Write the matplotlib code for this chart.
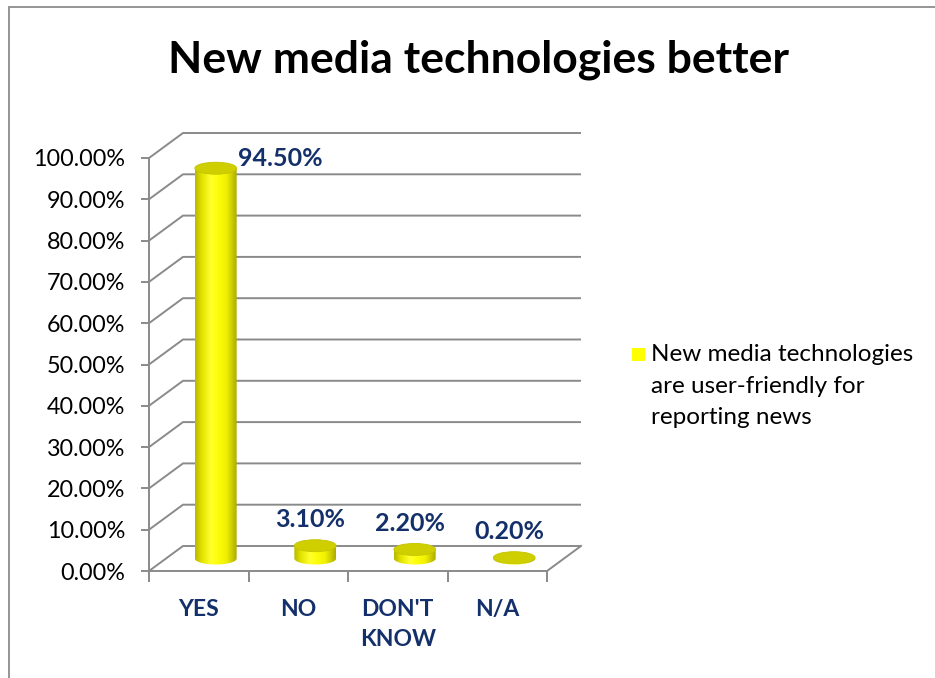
import numpy as np
import matplotlib
matplotlib.use("Agg")
import matplotlib.pyplot as plt
from matplotlib.patches import Rectangle, Ellipse, PathPatch
from matplotlib.path import Path
from matplotlib.colors import LinearSegmentedColormap
from matplotlib.ticker import MultipleLocator, PercentFormatter, FixedLocator

# ---- data ----
categories = ["YES", "NO", "DON'T\nKNOW", "N/A"]
values = [94.50, 3.10, 2.20, 0.20]
series_name = "New media technologies\nare user-friendly for\nreporting news"
title = "New media technologies better"

plt.rcParams['font.family'] = ['Lato', 'DejaVu Sans']

W, H = 935, 678
fig = plt.figure(figsize=(W / 100, H / 100), dpi=100)


def fx(px):
    return px / W


def fy(py):
    return 1 - py / H


NAVY = "#14306A"
GRID = "#8A8A8A"

# outer chart border
fig.patches.append(Rectangle((fx(9), fy(W)), 2, fy(7) - fy(W), transform=fig.transFigure,
                             fill=False, edgecolor="#8C8C8C", lw=1.3))

fig.text(fx(478), fy(60), title, ha="center", va="center",
         fontsize=32, fontweight="bold", color="black")

# front plane of the 3-D plot box
x0, x1 = 149, 547
y0, y1 = 571, 158
ax = fig.add_axes([fx(x0), fy(y0), fx(x1) - fx(x0), fy(y1) - fy(y0)])
n = len(categories)
ax.patch.set_alpha(0)

# depth offset of the back wall, in data units
DX = 34 / ((x1 - x0) / n)
DY = 25 / ((y0 - y1) / 100)

# back wall gridlines with their side-wall diagonals
for v in range(0, 101, 10):
    ax.plot([0, DX, n + DX], [v, v + DY, v + DY], color=GRID, lw=1.4,
            clip_on=False, zorder=1, solid_capstyle="butt")
# right edge of the floor
ax.plot([n, n + DX], [0, DY], color=GRID, lw=1.4, clip_on=False, zorder=1)

for s in ("top", "right"):
    ax.spines[s].set_visible(False)
for s in ("left", "bottom"):
    ax.spines[s].set_color(GRID)
    ax.spines[s].set_linewidth(1.4)

ax.yaxis.set_major_locator(MultipleLocator(10))
ax.yaxis.set_major_formatter(PercentFormatter(decimals=2))
ax.tick_params(axis="y", length=6, width=1.4, color=GRID, pad=11,
               labelsize=16.8, labelcolor="black")

ax.xaxis.set_major_locator(FixedLocator(np.arange(n) + 0.5))
ax.set_xticklabels(categories)
ax.xaxis.set_minor_locator(FixedLocator(np.arange(n + 1)))
ax.tick_params(axis="x", which="major", length=0, pad=20, labelsize=16.5,
               labelcolor=NAVY)
ax.tick_params(axis="x", which="minor", length=8, width=1.4, color=GRID)
for lab in ax.get_xticklabels():
    lab.set_fontweight("bold")
    lab.set_linespacing(1.55)
    lab.set_va("top")

# cylinders
cyl_cmap = LinearSegmentedColormap.from_list(
    "cyl", [(0.0, "#B8B800"), (0.18, "#E6E600"), (0.38, "#FFFF30"),
            (0.5, "#FFFF10"), (0.75, "#F0F000"), (1.0, "#ABAB00")])
grad = np.linspace(0, 1, 256).reshape(1, -1)
w = 0.42
eh = 12 / ((y0 - y1) / 100)
t = np.linspace(np.pi, 2 * np.pi, 60)

for i, v in enumerate(values):
    cx = i + 0.5 + DX / 2
    base = DY / 2
    top = v + DY / 2
    xs = np.concatenate([[cx - w / 2], cx + w / 2 * np.cos(t), [cx + w / 2]])
    ys = np.concatenate([[top], base + eh / 2 * np.sin(t), [top]])
    verts = np.column_stack([xs, ys])
    body = PathPatch(Path(np.vstack([verts, verts[:1]]), closed=True),
                     facecolor="none", edgecolor="none", clip_on=False)
    ax.add_patch(body)
    im = ax.imshow(grad, cmap=cyl_cmap, aspect="auto", zorder=3,
                   extent=[cx - w / 2, cx + w / 2, base - eh / 2, top],
                   interpolation="bilinear", clip_on=True)
    im.set_clip_path(body)
    ax.add_patch(Ellipse((cx, top), w, eh, facecolor="#CFCF00",
                         edgecolor="#C4C400", lw=0.6, zorder=4, clip_on=False))

    label = f"{v:.2f}%"
    if top + 8 > 100:
        ax.annotate(label, (cx + w / 2, top), xytext=(1, 7), textcoords="offset points",
                    ha="left", va="center", fontsize=18, fontweight="bold",
                    color=NAVY, annotation_clip=False, zorder=5)
    else:
        ax.annotate(label, (cx - 0.05, top), xytext=(0, 19), textcoords="offset points",
                    ha="center", va="center", fontsize=18, fontweight="bold",
                    color=NAVY, annotation_clip=False, zorder=5)

ax.set_xlim(0, n)
ax.set_ylim(0, 100)

# legend
fig.patches.append(Rectangle((fx(632), fy(361)), fx(13), fy(348) - fy(361),
                             transform=fig.transFigure, facecolor="#FFFF00",
                             edgecolor="none"))
fig.text(fx(651), fy(344), series_name, ha="left", va="top", fontsize=17.5,
         color="black", linespacing=1.62)

fig.savefig("out.png", dpi=100)
